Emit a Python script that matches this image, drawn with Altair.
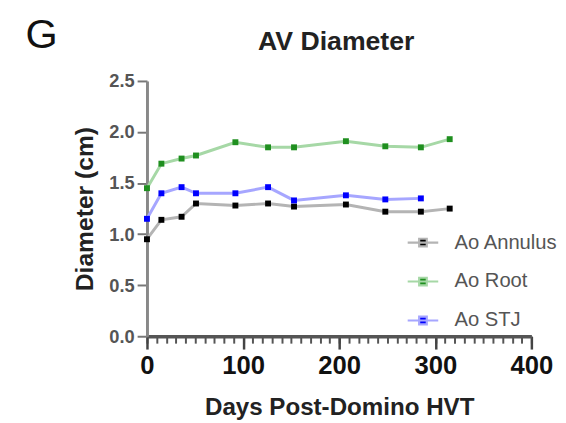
import altair as alt
import pandas as pd

# ---- data ----
days = [0, 15, 36, 51, 92, 126, 153, 207, 248, 285, 315]
ao_annulus = [0.95, 1.14, 1.17, 1.30, 1.28, 1.30, 1.27, 1.29, 1.22, 1.22, 1.25]
ao_root = [1.45, 1.69, 1.74, 1.77, 1.90, 1.85, 1.85, 1.91, 1.86, 1.85, 1.93]
ao_stj = [1.15, 1.40, 1.46, 1.40, 1.40, 1.46, 1.33, 1.38, 1.34, 1.35]
series_names = ["Ao Annulus", "Ao Root", "Ao STJ"]
marker_colors = ["#000000", "#1f8f1f", "#0000ff"]
line_colors = ["#b4b4b4", "#a6d8a6", "#a6a6ff"]
x_ticks = [0, 100, 200, 300, 400]
x_minor_ticks = list(range(0, 401, 10))
y_ticks = [0.0, 0.5, 1.0, 1.5, 2.0, 2.5]
panel_label = ["G"]
chart_title = ["AV Diameter"]

rows = []
for name, vals in zip(series_names, [ao_annulus, ao_root, ao_stj]):
    for d, v in zip(days, vals):
        rows.append({"day": d, "diameter": v, "series": name})
df = pd.DataFrame(rows)
label_df = pd.DataFrame({"label": panel_label})
title_df = pd.DataFrame({"label": chart_title})

FONT = "Liberation Sans"

legend = alt.Legend(
    title=None, orient="none", legendX=263, legendY=147, padding=0,
    symbolType="M-1,0H1M-0.25,-0.25H0.25V0.25H-0.25Z", symbolSize=961,
    symbolStrokeWidth=2.2, labelFontSize=20.5, labelColor="#555555",
    labelFont=FONT, labelOffset=15, rowPadding=11.5,
)

xscale = alt.Scale(domain=[0, 400], nice=False)
yscale = alt.Scale(domain=[0, 2.5], nice=False)

x_minor = alt.X("day:Q", scale=xscale, axis=alt.Axis(
    orient="bottom", values=x_minor_ticks, labels=False, title=None,
    tickSize=7, tickWidth=2, tickColor="#555555", domain=False, grid=False))

x_major = alt.X("day:Q", scale=xscale, axis=alt.Axis(
    orient="bottom", values=x_ticks, tickSize=13, tickWidth=2.5,
    tickColor="#444444", domainColor="#555555", domainWidth=3.5,
    labelFontSize=26, labelFontWeight="bold", labelColor="#111111",
    labelFont=FONT, labelPadding=4, labelFlush=False, labelOverlap=False,
    grid=False,
    title="Days Post-Domino HVT", titleFontSize=24.5, titleFontWeight="bold",
    titleColor="#222222", titleFont=FONT, titleY=79, titleBaseline="alphabetic"))

y_enc = alt.Y("diameter:Q", scale=yscale, axis=alt.Axis(
    values=y_ticks, format=".1f", tickSize=10, tickWidth=2,
    tickColor="#777777", domainColor="#888888", domainWidth=3,
    labelFontSize=18.5, labelFontWeight="bold", labelColor="#555555",
    labelFont=FONT, labelPadding=3, labelFlush=False, labelOverlap=False,
    grid=False,
    title="Diameter (cm)", titleFontSize=25, titleFontWeight="bold",
    titleColor="#222222", titleFont=FONT, titleX=-63, titleBaseline="middle"))

lines = alt.Chart(df).mark_line(strokeWidth=3).encode(
    x=x_minor, y=y_enc,
    stroke=alt.Stroke("series:N", scale=alt.Scale(domain=series_names, range=line_colors), legend=legend),
    order="day:Q",
)

points = alt.Chart(df).mark_square(size=36, opacity=1).encode(
    x=x_major, y=y_enc,
    fill=alt.Fill("series:N", scale=alt.Scale(domain=series_names, range=marker_colors), legend=legend),
)

glabel = alt.Chart(label_df).mark_text(
    fontSize=42, font=FONT, align="center", baseline="alphabetic", color="#111111"
).encode(text="label:N", x=alt.value(-107), y=alt.value(-33))

title_mark = alt.Chart(title_df).mark_text(
    fontSize=27, fontWeight="bold", font=FONT, align="center",
    baseline="alphabetic", color="#222222"
).encode(text="label:N", x=alt.value(192), y=alt.value(-31))

chart = alt.layer(lines, points, glabel, title_mark).resolve_axis(x="independent").properties(
    width=390, height=259,
    padding={"left": 141, "top": 71, "right": 27, "bottom": 85},
    autosize=alt.AutoSizeParams(type="none"),
).configure_view(stroke=None)

chart.save("out.html", embed_options={"renderer": "svg", "actions": False})
